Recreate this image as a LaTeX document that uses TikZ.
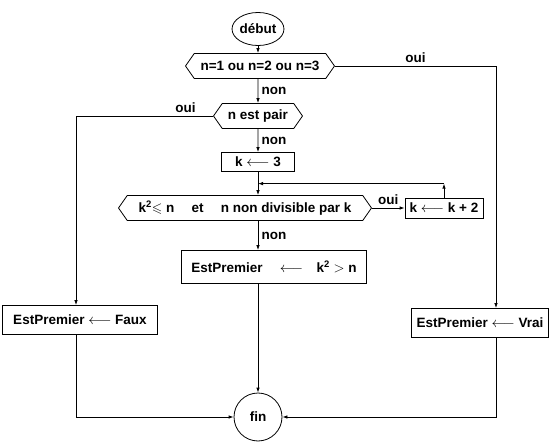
\documentclass[tikz,border=0pt]{standalone}
\usepackage{amssymb}
\usepackage{fontspec}
\setmainfont{Liberation Sans}
\usetikzlibrary{shapes.symbols,shapes.geometric,arrows.meta,positioning}

\begin{document}
\begin{tikzpicture}[x=1pt,y=-1pt,line width=0.8pt,>={Latex[length=5pt,width=3.5pt]},
  every node/.style={font=\fontsize{13.5}{15}\selectfont\bfseries},
  terminal/.style={draw,ellipse,inner sep=0pt},
  test/.style={draw,signal,signal to=west and east,signal pointer angle=110,inner sep=0pt,minimum height=25pt},
  action/.style={draw,rectangle,inner sep=0pt}]
           \useasboundingbox (0,0) rectangle (558,444);
           \node[terminal,minimum width=48pt,minimum height=33pt] (debut) at (258,29) {début};
           \node[test,minimum width=149pt] (nb) at (260,66) {n=1 ou n=2 ou n=3};
           \node[test,minimum width=89pt] (pair) at (258,116) {n est pair};
           \node[action,minimum width=73pt,minimum height=19pt] (init) at (258,162) {k $\longleftarrow$ 3};
           \node[test,minimum width=253pt] (boucle) at (245,208) {k\textsuperscript{2}$\leqslant$ n \quad et \quad n non divisible par k};
           \node[action,minimum width=78pt,minimum height=20pt] (incr) at (444,208) {k $\longleftarrow$ k + 2};
           \node[action,minimum width=185pt,minimum height=33pt] (res) at (274,267) {EstPremier \quad$\longleftarrow$\quad k\textsuperscript{2} $>$ n};
           \node[action,minimum width=155pt,minimum height=29pt] (faux) at (80,320) {EstPremier $\longleftarrow$ Faux};
           \node[action,minimum width=137pt,minimum height=29pt] (vrai) at (480,323) {EstPremier $\longleftarrow$ Vrai};
           \node[terminal,minimum size=48pt] (fin) at (258,417) {fin};
           \draw[->] (debut) -- (debut |- nb.north);
           \draw[->] (debut |- nb.south) -- node[right] {non} (pair);
           \draw[->] (nb.east) -| node[pos=0.25,above] {oui} ([xshift=16pt]vrai.north);
           \draw[->] (pair.west) -| node[pos=0.1,above] {oui} ([xshift=-4pt]faux.north);
           \draw[->] (pair) -- node[right] {non} (init);
           \draw[->] (init) -- (init |- boucle.north);
           \draw[->] (boucle.east) -- node[above] {oui} (incr);
           \draw[->] (incr.north) -- ++(0,-14) coordinate (coin);
           \draw[->] (coin) -- (coin -| init);
           \draw[->] (init |- boucle.south) -- node[right] {non} (init |- res.north);
           \draw[->] (init |- res.south) -- (fin);
           \draw[->] ([xshift=-4pt]faux.south) |- (fin.west);
           \draw[->] ([xshift=16pt]vrai.south) |- (fin.east);
\end{tikzpicture}
\end{document}
